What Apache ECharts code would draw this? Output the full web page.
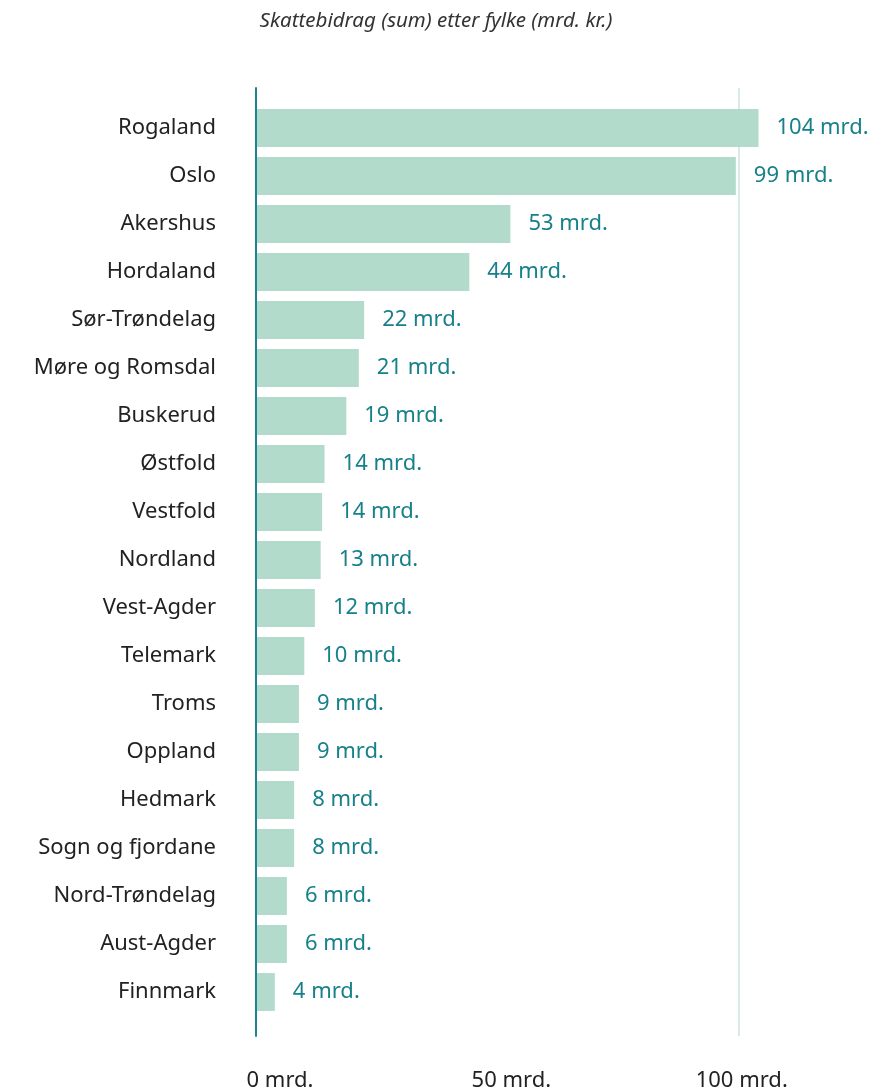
<!DOCTYPE html>
<html>
<head>
<meta charset="utf-8">
<script src="https://cdn.jsdelivr.net/npm/echarts@6/dist/echarts.min.js"></script>
<style>
  html, body { margin: 0; padding: 0; background: #fff; }
  #chart { width: 887px; height: 1092px; }
</style>
</head>
<body>
<div id="chart"></div>
<script>
// fylker, from top to bottom
var fylker = ['Rogaland', 'Oslo', 'Akershus', 'Hordaland', 'Sør-Trøndelag', 'Møre og Romsdal',
  'Buskerud', 'Østfold', 'Vestfold', 'Nordland', 'Vest-Agder', 'Telemark', 'Troms',
  'Oppland', 'Hedmark', 'Sogn og fjordane', 'Nord-Trøndelag', 'Aust-Agder', 'Finnmark']
// skattebidrag, mrd. kr
var skatt = [104.1, 99.4, 52.7, 44.2, 22.4, 21.3, 18.7, 14.2, 13.7, 13.4, 12.2, 10.0, 8.9,
  8.9, 7.9, 7.9, 6.4, 6.4, 3.9]
var xTicks = [0, 50, 100]
var tittel = 'Skattebidrag (sum) etter fylke (mrd. kr.)'

var font = '"Noto Sans", sans-serif'
var teal = '#17808a'

var chart = echarts.init(document.getElementById('chart'))

var option = {
  backgroundColor: '#fff',
  animation: false,
  title: {
    text: tittel,
    left: 431,
    textAlign: 'center',
    top: 6,
    textStyle: { fontFamily: font, fontStyle: 'italic', fontWeight: 'normal', fontSize: 20.5, color: '#333' }
  },
  grid: [
    // frame: axis line, 100 line and bottom labels
    { left: 256, right: 100, top: 88, bottom: 55 },
    // bars
    { left: 256, right: 100, top: 104, bottom: 76 }
  ],
  xAxis: [
    {
      gridIndex: 0,
      type: 'value',
      min: 0,
      max: 110,
      interval: 50,
      axisLine: { show: false },
      axisTick: { show: false },
      axisLabel: {
        showMaxLabel: false,
        margin: 34,
        color: '#222',
        fontFamily: font,
        fontSize: 22,
        formatter: function (v) {
          if (xTicks.indexOf(v) < 0) return ''
          return '{t' + v + '|' + v + ' mrd.}'
        },
        rich: {
          t0: { fontFamily: font, fontSize: 22, color: '#222', padding: [0, 0, 0, 48] },
          t50: { fontFamily: font, fontSize: 22, color: '#222', padding: [0, 0, 0, 28] },
          t100: { fontFamily: font, fontSize: 22, color: '#222', padding: [0, 0, 0, 6] }
        }
      },
      splitLine: {
        show: true,
        lineStyle: { width: 1.5, color: ['rgba(0,0,0,0)', 'rgba(0,0,0,0)', '#cbe5dd', 'rgba(0,0,0,0)'] }
      }
    },
    {
      gridIndex: 1,
      type: 'value',
      min: 0,
      max: 110,
      show: false
    }
  ],
  yAxis: [
    {
      gridIndex: 0,
      type: 'value',
      min: 0,
      max: 1,
      axisLine: { show: true, lineStyle: { color: '#1b8691', width: 2 } },
      axisTick: { show: false },
      axisLabel: { show: false },
      splitLine: { show: false },
      z: 10
    },
    {
      gridIndex: 1,
      type: 'category',
      data: fylker,
      inverse: true,
      axisLine: { show: false },
      axisTick: { show: false },
      axisLabel: {
        margin: 40,
        color: '#222',
        fontFamily: font,
        fontSize: 22
      }
    }
  ],
  series: [
    {
      name: 'skatt',
      type: 'bar',
      xAxisIndex: 1,
      yAxisIndex: 1,
      data: skatt,
      barCategoryGap: '21%',
      itemStyle: { color: '#b2dbcb' },
      label: {
        show: true,
        position: 'right',
        distance: 18,
        color: teal,
        fontFamily: font,
        fontSize: 22,
        formatter: function (p) {
          return Math.round(p.value) + ' mrd.'
        }
      }
    }
  ]
}

chart.setOption(option)
</script>
</body>
</html>
